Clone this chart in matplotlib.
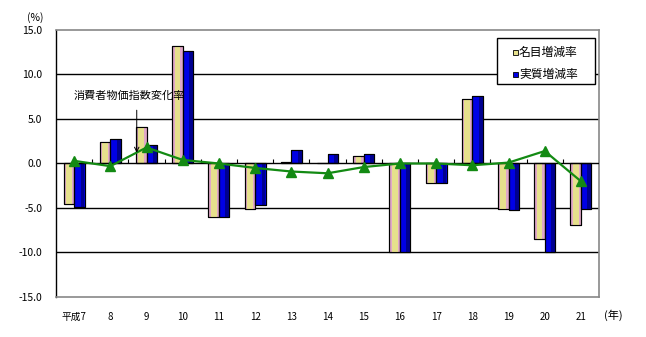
import matplotlib.pyplot as plt
import numpy as np
from matplotlib.patches import Rectangle

plt.rcParams['font.family'] = ['Noto Sans CJK JP', 'DejaVu Sans']

years = ['平成7', '8', '9', '10', '11', '12', '13', '14', '15', '16', '17', '18', '19', '20', '21']
nominal = [-4.6, 2.45, 4.05, 13.15, -6.0, -5.1, 0.2, 0.0, 0.8, -10.0, -2.2, 7.3, -5.1, -8.5, -6.9]
real = [-4.9, 2.7, 2.1, 12.6, -6.0, -4.65, 1.55, 1.1, 1.1, -10.0, -2.2, 7.55, -5.25, -10.0, -5.1]
cpi = [0.3, -0.3, 1.8, 0.4, 0.0, -0.5, -0.9, -1.1, -0.4, 0.0, 0.0, -0.2, 0.1, 1.4, -2.0]
series_names = ['名目増減率', '実質増減率']

x = np.arange(len(years))
w = 0.29
yellow = '#E6E08C'
blue = '#0000E6'

fig = plt.figure(figsize=(6.46, 3.37), dpi=100)
ax = fig.add_axes([0.0867, 0.1187, 0.8406, 0.7923])

# grid lines and zero line
for v in [-10, -5, 5, 10]:
    ax.axhline(v, color='black', lw=1.0, zorder=1)
ax.axhline(0, color='black', lw=1.0, zorder=4)

# nominal bars: pink edges, yellow middle
ax.bar(x - w / 2, nominal, w, color='#E0A8C8', edgecolor='black', lw=0.8, zorder=2)
ax.bar(x - w / 2, nominal, w * 0.55, color=yellow, lw=0, zorder=2.5)
ax.bar(x - w / 2, nominal, w, fill=False, edgecolor='black', lw=0.8, zorder=3)

# real bars: bright blue with darker right side
ax.bar(x + w / 2, real, w, color=blue, edgecolor='black', lw=0.8, zorder=2)
ax.bar(x + w / 2 + w * 0.3, real, w * 0.35, color='#000090', lw=0, zorder=2.5)
ax.bar(x + w / 2, real, w, fill=False, edgecolor='black', lw=0.8, zorder=3)

# consumer price index change
ax.plot(x, cpi, color='#138A13', lw=1.6, marker='^', ms=6.5, zorder=5)

# small tick marks between categories on the zero line
bounds = np.arange(len(years) + 1) - 0.5
ax.vlines(bounds[1:-1], 0, 0.45, color='black', lw=0.8, zorder=4)

ax.set_xlim(-0.5, len(years) - 0.5)
ax.set_ylim(-15, 15)
ax.set_yticks(np.arange(-15, 16, 5))
ax.set_yticklabels(['%.1f' % v for v in np.arange(-15, 16, 5)], fontsize=7.5)
ax.tick_params(axis='y', length=0, pad=10)
ax.set_xticks([])

for s in ['top', 'right', 'bottom']:
    ax.spines[s].set_color('#888888')
    ax.spines[s].set_linewidth(1.2)
ax.spines['left'].set_color('black')
ax.spines['left'].set_linewidth(1.0)

for i, lab in enumerate(years):
    ax.text(i, -0.075, lab, transform=ax.get_xaxis_transform(), ha='center', va='center', fontsize=7)

fig.text(0.054, 0.947, '(%)', ha='center', va='center', fontsize=7.5)
fig.text(0.949, 0.066, '(年)', ha='center', va='center', fontsize=8)

# annotation with arrow
ax.annotate('', xy=(1.73, 0.9), xytext=(1.73, 6.3),
            arrowprops=dict(arrowstyle='->', color='black', lw=0.7, mutation_scale=8), zorder=6)
ax.text(0.0, 7.6, '消費者物価指数変化率', ha='left', va='center', fontsize=8, zorder=6)

# legend box drawn in figure coordinates
lx0, lx1 = 497 / 646, 595 / 646
ly0, ly1 = 1 - 84 / 337, 1 - 38 / 337
fig.patches.append(Rectangle((lx0, ly0), lx1 - lx0, ly1 - ly0, transform=fig.transFigure,
                             facecolor='white', edgecolor='black', lw=1.0, zorder=10))
for name, col, yy in zip(series_names, [yellow, blue], [1 - 52 / 337, 1 - 74 / 337]):
    fig.patches.append(Rectangle((513 / 646, yy - 2.5 / 337), 5 / 646, 5 / 337,
                                 transform=fig.transFigure, facecolor=col,
                                 edgecolor='black', lw=0.6, zorder=11))
    fig.text(519 / 646, yy, name, ha='left', va='center', fontsize=8.5, zorder=12)

fig.savefig('out.png', dpi=100)
